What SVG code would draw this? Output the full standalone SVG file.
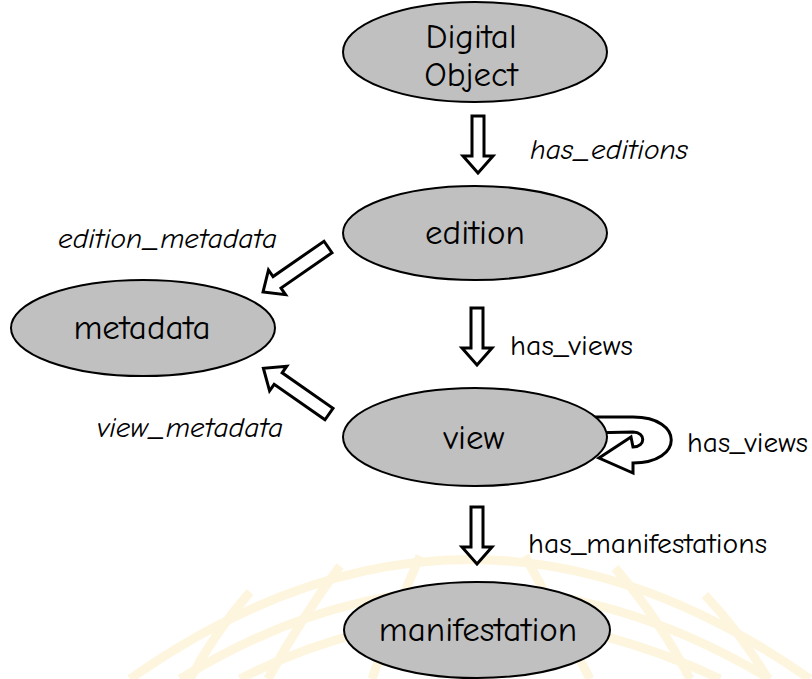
<svg xmlns="http://www.w3.org/2000/svg" width="812" height="679" viewBox="0 0 812 679">
<style>
.bg{fill:#ffffff}
.wm{fill:none;stroke:#fdf5de;stroke-width:9;stroke-linecap:butt}
.node{fill:#c0c0c0;stroke:#000000;stroke-width:2}
.ntxt{font-family:"Comic Sans MS","Comic Neue","Noto Sans",sans-serif;font-size:35px;fill:#000;text-anchor:middle}
.lbl{font-family:"Comic Sans MS","Comic Neue","Noto Sans",sans-serif;font-size:28px;fill:#000}
.it{font-style:italic}
.arr{fill:#ffffff;stroke:#000000;stroke-width:3;stroke-linejoin:miter}
</style>
<rect class="bg" x="0" y="0" width="812" height="679"/>
<g id="watermark">
<path class="wm" d="M130,679 Q470,440 810,679"/>
<path class="wm" d="M180,679 Q470,500 770,679"/>
<path class="wm" d="M240,679 Q470,560 720,679"/>
<path class="wm" d="M420,556 Q392,620 372,679"/>
<path class="wm" d="M340,566 Q300,620 268,679"/>
<path class="wm" d="M250,592 Q215,632 190,679"/>
<path class="wm" d="M525,556 Q560,620 590,679"/>
<path class="wm" d="M615,568 Q660,620 690,679"/>
<path class="wm" d="M705,595 Q740,632 768,679"/>
</g>
<g id="connectors">
<polygon id="e-has-editions" class="arr" points="0,-6 40,-6 40,-15 57,0 40,15 40,6 0,6" transform="translate(478,116) rotate(90)"/>
<polygon id="e-has-views" class="arr" points="0,-6 40,-6 40,-15 57,0 40,15 40,6 0,6" transform="translate(477,308) rotate(90)"/>
<polygon id="e-has-manifestations" class="arr" points="0,-6 40,-6 40,-15 57,0 40,15 40,6 0,6" transform="translate(477,507) rotate(90)"/>
<polygon id="e-edition-metadata" class="arr" points="0,-7 62,-7 62,-15 79,0 62,15 62,7 0,7" transform="translate(328,247) rotate(145.3)"/>
<polygon id="e-view-metadata" class="arr" points="0,-7 62,-7 62,-15 80,0 62,15 62,7 0,7" transform="translate(329,414) rotate(214.9)"/>
<path id="e-view-loop" class="arr" d="M588,417 L633,417 C684,417 684,463 633,463 L633,473 L599,458 L631,437 L633,447 C646,447 646,432 633,432 L588,433 Z"/>
<text class="lbl it" x="530" y="159" textLength="158" lengthAdjust="spacingAndGlyphs">has_editions</text>
<text class="lbl it" x="58" y="248" textLength="219" lengthAdjust="spacingAndGlyphs">edition_metadata</text>
<text class="lbl" x="510" y="355" textLength="123" lengthAdjust="spacingAndGlyphs">has_views</text>
<text class="lbl it" x="97" y="437" textLength="186" lengthAdjust="spacingAndGlyphs">view_metadata</text>
<text class="lbl" x="687" y="452" textLength="121" lengthAdjust="spacingAndGlyphs">has_views</text>
<text class="lbl" x="528" y="553" textLength="239" lengthAdjust="spacingAndGlyphs">has_manifestations</text>
</g>
<g id="n-digital-object">
<ellipse class="node" cx="475" cy="52" rx="132" ry="50"/>
<text class="ntxt" x="471" y="48">Digital</text>
<text class="ntxt" x="471" y="86">Object</text>
</g>
<g id="n-edition">
<ellipse class="node" cx="475" cy="233" rx="132" ry="47"/>
<text class="ntxt" x="475" y="244">edition</text>
</g>
<g id="n-metadata">
<ellipse class="node" cx="143" cy="328" rx="132" ry="48"/>
<text class="ntxt" x="142" y="339">metadata</text>
</g>
<g id="n-view">
<ellipse class="node" cx="475" cy="437" rx="132" ry="49"/>
<text class="ntxt" x="474" y="449">view</text>
</g>
<g id="n-manifestation">
<ellipse class="node" cx="477" cy="630" rx="133" ry="48"/>
<text class="ntxt" x="478" y="641">manifestation</text>
</g>
</svg>
